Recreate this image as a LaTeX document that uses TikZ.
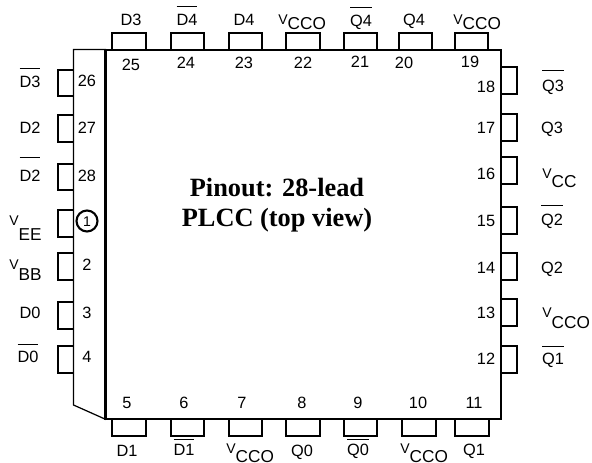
\documentclass[tikz,border=0pt]{standalone}
\usepackage{fontspec}
\setmainfont{Liberation Sans}
\newfontfamily\titlefont{Liberation Serif}
\newcommand{\barlab}[2][9.5pt]{\smash{$\overline{\mbox{\rule{0pt}{#1}#2}}$}}
\newcommand{\vlab}[2]{\raisebox{#1}{\fontsize{8}{8}\selectfont V}{\fontsize{9.8}{9.8}\selectfont #2}}
\tikzset{
	pinlab/.style={inner sep=0pt,font=\fontsize{9.3}{10}\selectfont,text height=6.6pt,text depth=0pt},
	vccolab/.style={inner sep=0pt,anchor=base west},
	pinline/.style={line width=1.6pt,line join=miter},
	bodyline/.style={line width=1.6pt},
	caseline/.style={line width=0.7pt}
}
\begin{document}
\begin{tikzpicture}[x=0.02cm,y=-0.02cm]
		\useasboundingbox (0,0) rectangle (592,463);
		\foreach \xa/\xb in {112/146,171/204,229/262,286/320,344/377,399/432,455/488}
			\draw[pinline] (\xa,50) |- (\xb,33) -- (\xb,50);
		\foreach \xa/\xb in {112/146,171/204,229/262,286/320,344/377,402/436,455/489}
			\draw[pinline] (\xa,419) |- (\xb,436) -- (\xb,419);
		\foreach \ya/\yb in {70/96,115/142,164/190,210/237,253/280,302/329,346/373}
			\draw[pinline] (73,\ya) -| (58,\yb) -- (73,\yb);
		\foreach \ya/\yb in {67/94,114/141,157/184,207/234,253/280,299/326,346/373}
			\draw[pinline] (501,\ya) -| (517,\yb) -- (501,\yb);
		\draw[caseline] (106,49.5) -- (73.5,49.5) -- (73.5,405) -- (106,419.5);
		\draw[bodyline] (105.5,50) -- (501,50) -- (501,419) -- (105.5,419) -- cycle;
		\foreach \num/\x/\y in {25/131/65,24/186/63,23/244/63,22/303/63,21/360/62,20/404/63,19/470/62,
				26/87/81,27/87/128,28/87/176,2/87/265,3/87/313,4/87/357,
				18/486/87,17/486/128,16/486/174,15/486/221,14/486/268,13/486/313,12/486/359,
				5/127/403,6/184/403,7/242/403,8/302/403,9/358/403,10/418/403,11/474/403}
			\node[pinlab] (num\num) at (\x,\y) {\num};
		\node[pinlab,circle,draw,line width=1.2pt,minimum size=0.42cm,font=\fontsize{8}{9}\selectfont,text height=5.8pt] (num1) at (87,221) {1};
		\foreach \name/\lab/\x/\y in {d3/D3/131/20,nd4/\barlab{D4}/187/20,d4/D4/244/20,nq4/\barlab{Q4}/361/21,q4/Q4/414/20,
				nd3/\barlab{D3}/30/82,d2/D2/30/128,nd2/\barlab[12.3pt]{D2}/30/176,d0/D0/30/313,nd0/\barlab[8.9pt]{D0}/28/357,
				d1/D1/127/451,nd1/\barlab[7.8pt]{D1}/184/450,q0/Q0/302/451,nq0/\barlab[7.8pt]{Q0}/358/450,q1/Q1/474/450,
				nq3/\barlab[10.6pt]{Q3}/553/86,q3/Q3/552/128,nq2/\barlab[10pt]{Q2}/552/220,q2/Q2/552/268,nq1/\barlab[8.9pt]{Q1}/553/359}
			\node[pinlab] (lab\name) at (\x,\y) {\lab};
		\node[vccolab] (vcco22) at (278,30) {\vlab{3pt}{CCO}};
		\node[vccolab] (vcco19) at (453,30) {\vlab{3pt}{CCO}};
		\node[vccolab] (vee) at (9,240) {\vlab{8.1pt}{EE}};
		\node[vccolab] (vbb) at (9,280) {\vlab{5.8pt}{BB}};
		\node[vccolab] (vcc) at (542,187) {\vlab{4.7pt}{CC}};
		\node[vccolab] (vcco13) at (542,328) {\vlab{5.8pt}{CCO}};
		\node[vccolab] (vcco7) at (226,462) {\vlab{4.7pt}{CCO}};
		\node[vccolab] (vcco10) at (400,462) {\vlab{4.7pt}{CCO}};
		\node[align=center,inner sep=0pt,font=\titlefont\bfseries\fontsize{15}{17}\selectfont] (title) at (277,205) {Pinout: 28-lead\\PLCC (top view)};
		\end{tikzpicture}
\end{document}
